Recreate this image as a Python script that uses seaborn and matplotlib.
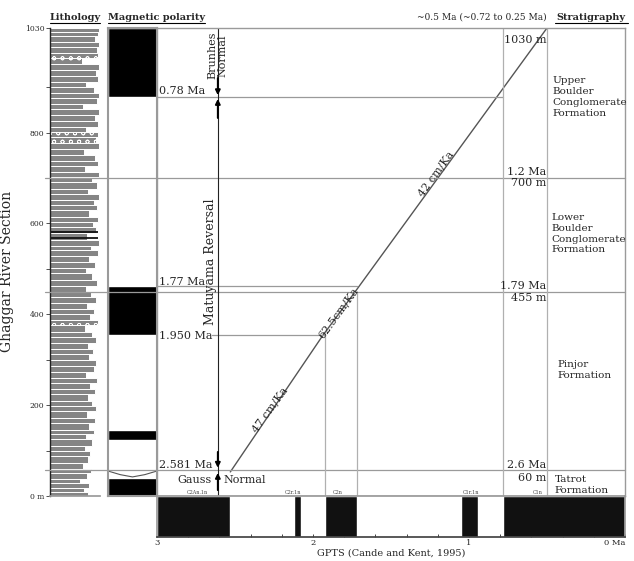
import numpy as np
import seaborn as sns
import matplotlib.pyplot as plt

# lithology log of the section: base of each bed (m) and relative grain size (bar length)
lith_base = [0, 9, 17, 28, 37, 50, 60, 72, 87, 98, 111, 125, 137,
             146, 160, 172, 187, 199, 210, 224, 236, 249, 259, 272, 287, 299,
             312, 323, 337, 350, 362, 377, 387, 400, 412, 425, 439, 450, 463,
             475, 490, 502, 516, 528, 541, 551, 564, 579, 591, 604, 615, 629,
             641, 652, 665, 676, 690, 702, 714, 727, 738, 751, 763, 776, 790, 801,
             813, 826, 838, 851, 862, 875, 888, 900, 912, 925, 938, 950, 963, 976, 988, 1000, 1012, 1021]
lith_size = [3.8, 3.4, 3.9, 3.0, 3.7, 4.1, 3.3, 3.8, 4.0, 3.5, 4.2, 3.6, 4.4,
             3.9, 4.5, 3.7, 4.6, 4.2, 3.8, 4.5, 4.0, 4.7, 3.6, 4.4, 4.6, 3.9,
             4.3, 3.8, 4.6, 4.2, 3.5, 4.8, 4.0, 4.4, 3.7, 4.6, 4.1, 3.6, 4.7,
             4.2, 3.6, 4.5, 3.9, 4.8, 4.1, 4.9, 3.7, 4.6, 4.3, 4.8, 3.9, 4.7,
             4.4, 4.9, 3.8, 4.7, 4.2, 4.9, 3.5, 4.8, 4.5, 3.4, 4.9, 4.6, 4.8, 3.6,
             4.8, 4.5, 4.9, 3.3, 4.7, 4.9, 4.4, 3.6, 4.8, 4.6, 4.9, 3.2, 4.8, 4.7, 4.9, 4.5, 4.8, 4.9]
section_top = 1030
congl_base = [377, 776, 790, 950, 963]
mud_depth = [568, 581]

# magnetic polarity column, normal (black) intervals in m
mag_bottom = [0, 123, 354, 878]
mag_top = [40, 145, 462, 1030]
lens_x = [0, 0.25, 0.5, 0.75, 1]
lens_depth = [55, 47, 42, 47, 55]

# GPTS normal chrons (Ma)
gpts_young = [0.0, 0.94, 1.72, 2.08, 2.53]
gpts_old = [0.78, 1.05, 1.92, 2.12, 3.0]
gpts_names = ['C1n', 'C1r.1n', 'C2n', 'C2r.1n', 'C2An.1n']
gpts_label_age = [0.56, 0.99, 1.84, 2.13, 2.74]

# age-depth correlation line
tie_age = [2.53, 1.936, 1.731, 0.5]
tie_depth = [53, 354, 449, 1030]
rate_labels = ['47 cm/Ka', '62.5cm/Ka', '42 cm/Ka']
rate_age = [2.276, 1.84, 1.21]
rate_depth = [189, 403, 709]

# polarity boundaries: depth, line start / end age
bound_depth = [878, 700, 462, 449, 354, 57]
bound_start = [3.0, 3.72, 3.0, 3.72, 2.65, 3.72]
bound_end = [0.78, 0.0, 1.72, 0.0, 1.92, 0.0]

# projections of GPTS boundaries
proj_age = [0.78, 0.5, 1.92, 1.72]
proj_top = [1030, 1030, 354, 449]

left_labels = ['0.78 Ma', '1.77 Ma', '1.950 Ma', '2.581 Ma']
left_depth = [891, 471, 352, 68]
ma_labels = ['1.2 Ma', '1.79 Ma', '2.6 Ma']
ma_depth = [713, 462, 68]
m_labels = ['1030 m', '700 m', '455 m', '60 m']
m_depth = [1003, 689, 436, 40]

formations = ['Upper\nBoulder\nConglomerate\nFormation', 'Lower\nBoulder\nConglomerate\nFormation',
              'Pinjor\nFormation', 'Tatrot\nFormation']
form_age = [0.468, 0.47, 0.436, 0.449]
form_depth = [878, 577, 277, 24]

arrow_tail = [920, 832, 97, 13]
arrow_tip = [882, 874, 62, 51]
arrow_age = 2.61

W, H = 634, 561


def box(x0, y0, x1, y1):
    return [x0 / W, 1 - y1 / H, (x1 - x0) / W, (y1 - y0) / H]


def main():
    sns.set_theme(style='white')
    plt.rcParams['font.family'] = ['DejaVu Serif']
    plt.rcParams['hatch.linewidth'] = 0.5
    grey = '#9a9a9a'

    fig = plt.figure(figsize=(W / 100, H / 100), dpi=100)
    ax_lith = fig.add_axes(box(50, 28, 100, 496))
    ax_mag = fig.add_axes(box(108, 28, 157, 496))
    ax_main = fig.add_axes(box(157, 28, 625, 496))
    ax_gpts = fig.add_axes(box(157, 496, 625, 537))

    # lithology
    tops = lith_base[1:] + [section_top]
    thick = np.array(tops) - np.array(lith_base)
    for b, t, s in zip(lith_base, thick, lith_size):
        ax_lith.barh(b, s, height=t, left=0, align='edge', color='#858585',
                     edgecolor='white', linewidth=0.7,
                     hatch='oo' if b in congl_base else None)
    ax_lith.hlines(mud_depth, 0, 4.8, color='#111111', lw=1.3)
    ax_lith.set_xlim(0, 5)
    ax_lith.set_ylim(0, section_top)
    ax_lith.set_xticks([])
    ax_lith.set_yticks([0, 200, 400, 600, 800, 1030])
    ax_lith.set_yticklabels(['0 m', '200', '400', '600', '800', '1030'])
    ax_lith.set_yticks([100, 300, 500, 700, 900], minor=True)
    ax_lith.tick_params(axis='y', which='both', left=True, length=3, width=0.6,
                        labelsize=5.5, pad=1, color='#333333')
    for side in ['top', 'right']:
        ax_lith.spines[side].set_visible(False)
    ax_lith.spines['left'].set_color('#222222')
    ax_lith.spines['left'].set_linewidth(1)
    ax_lith.spines['bottom'].set_color(grey)
    ax_lith.set_ylabel('Ghaggar River Section', fontsize=10)
    ax_lith.yaxis.set_label_coords(-0.72, 0.48)

    # magnetic polarity
    ax_mag.barh(mag_bottom, 1, height=np.array(mag_top) - np.array(mag_bottom),
                left=0, align='edge', color='black')
    ax_mag.plot(lens_x, lens_depth, color='#555555', lw=0.8)
    ax_mag.set_xlim(0, 1)
    ax_mag.set_ylim(0, section_top)
    ax_mag.set_xticks([])
    ax_mag.set_yticks([])
    for sp in ax_mag.spines.values():
        sp.set_color(grey)
        sp.set_linewidth(1.5)

    # age-depth plot
    sns.lineplot(x=tie_age, y=tie_depth, ax=ax_main, color='#555555', lw=1)
    ax_main.set_xlim(3, 0)
    ax_main.set_ylim(0, section_top)
    ax_main.set_xticks([])
    ax_main.set_yticks([])
    ax_main.set_xlabel('')
    ax_main.set_ylabel('')
    for sp in ax_main.spines.values():
        sp.set_color(grey)
        sp.set_linewidth(1)

    for d, a0, a1 in zip(bound_depth, bound_start, bound_end):
        ax_main.plot([a0, a1], [d, d], color=grey, lw=0.9, clip_on=False)
    ax_main.vlines(proj_age, 0, proj_top, color='#b0b0b0', lw=0.9)
    ax_main.vlines(arrow_age, 0, section_top, color='#222222', lw=0.8)
    for tail, tip in zip(arrow_tail, arrow_tip):
        ax_main.annotate('', xy=(arrow_age, tip), xytext=(arrow_age, tail),
                         arrowprops=dict(arrowstyle='-|>', color='black', lw=1.4,
                                         mutation_scale=7, shrinkA=0, shrinkB=0))

    for lab, a, d in zip(rate_labels, rate_age, rate_depth):
        ax_main.text(a, d, lab, fontsize=8, rotation=54, ha='center', va='center',
                     rotation_mode='anchor')
    for lab, d in zip(left_labels, left_depth):
        ax_main.text(2.985, d, lab, fontsize=8, ha='left', va='center')
    for lab, d in zip(ma_labels, ma_depth):
        ax_main.text(0.505, d, lab, fontsize=8, ha='right', va='center')
    for lab, d in zip(m_labels, m_depth):
        ax_main.text(0.505, d, lab, fontsize=8, ha='right', va='center')
    for lab, a, d in zip(formations, form_age, form_depth):
        ax_main.text(a, d, lab, fontsize=7.5, ha='left', va='center', linespacing=1.25)

    ax_main.text(2.615, 969, 'Brunhes\nNormal', fontsize=8, rotation=90,
                 ha='center', va='center', linespacing=1.0)
    ax_main.text(2.66, 515, 'Matuyama Reversal', fontsize=9, rotation=90,
                 ha='center', va='center')
    ax_main.text(2.76, 35, 'Gauss', fontsize=8, ha='center', va='center')
    ax_main.text(2.44, 35, 'Normal', fontsize=8, ha='center', va='center')
    for lab, a in zip(gpts_names, gpts_label_age):
        ax_main.text(a, 3, lab, fontsize=3.5, ha='center', va='bottom', color='#444444')

    # GPTS bar
    ax_gpts.barh(0, np.array(gpts_old) - np.array(gpts_young), left=gpts_young,
                 height=1, align='edge', color='#111111')
    ax_gpts.set_xlim(3, 0)
    ax_gpts.set_ylim(0, 1)
    ax_gpts.set_yticks([])
    ax_gpts.set_xticks([3, 2, 1, 0])
    ax_gpts.set_xticklabels(['3', '2', '1', '0 Ma'])
    ax_gpts.get_xticklabels()[-1].set_horizontalalignment('right')
    ax_gpts.set_xticks(np.arange(0, 3.01, 0.2), minor=True)
    ax_gpts.tick_params(axis='x', which='both', bottom=True, direction='in',
                        length=2, width=0.6, labelsize=6, pad=1.5)
    for sp in ax_gpts.spines.values():
        sp.set_color(grey)
    ax_gpts.spines['bottom'].set_color('#444444')
    ax_gpts.set_xlabel('GPTS (Cande and Kent, 1995)', fontsize=7, labelpad=1)

    # column headers
    fig.text(75 / W, 1 - 17 / H, 'Lithology', fontsize=7, weight='bold', ha='center', va='center')
    fig.text(156 / W, 1 - 17 / H, 'Magnetic polarity', fontsize=7, weight='bold', ha='center', va='center')
    fig.text(591 / W, 1 - 17 / H, 'Stratigraphy', fontsize=7, weight='bold', ha='center', va='center')
    fig.text(547 / W, 1 - 17 / H, '~0.5 Ma (~0.72 to 0.25 Ma)', fontsize=6.5, ha='right', va='center')
    for x0, x1 in [(50, 100), (108, 205), (555, 628)]:
        fig.add_artist(plt.Line2D([x0 / W, x1 / W], [1 - 23 / H, 1 - 23 / H], color='black', lw=0.8))

    fig.savefig('out.png', dpi=100)


if __name__ == '__main__':
    main()
